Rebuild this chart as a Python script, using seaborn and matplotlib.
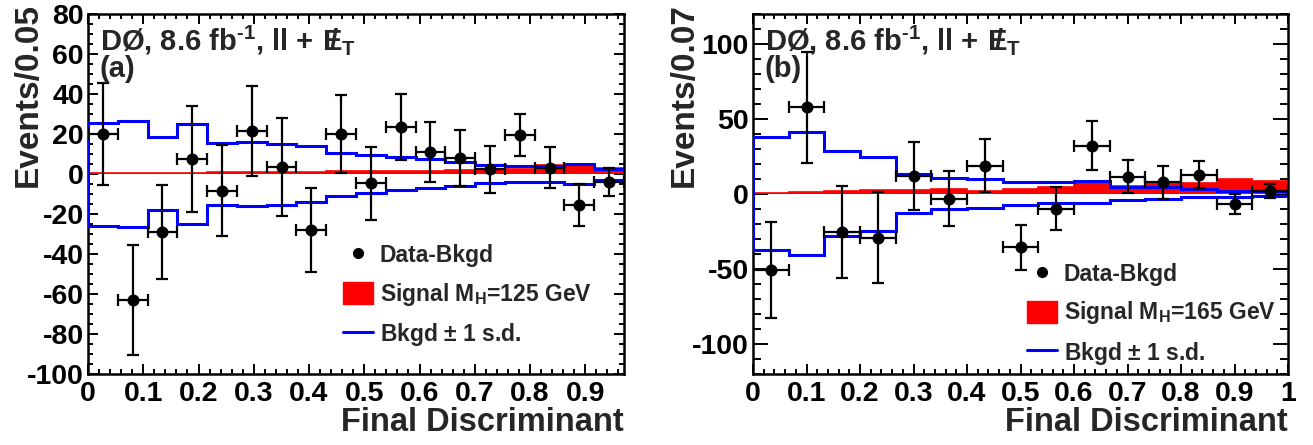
import numpy as np
import matplotlib
matplotlib.use("Agg")
import matplotlib.pyplot as plt
import seaborn as sns
from matplotlib.lines import Line2D
from matplotlib.patches import Patch
from matplotlib.ticker import MultipleLocator

# ---------------- data: panel (a) ----------------
a_xmax = 0.97
a_nbins = 18
a_data = [20.0, -63.0, -29.0, 7.5, -8.3, 21.5, 3.5, -27.8, 19.8, -4.7, 23.7, 11.2,
          7.8, 2.3, 19.5, 3.2, -15.5, -3.8]
a_err = [25.7, 27.5, 23.5, 26.3, 22.8, 22.5, 24.7, 21.0, 19.5, 18.2, 16.5, 15.0,
         14.0, 11.7, 10.7, 10.2, 10.5, 7.0]
a_sig = [0.3, 0.4, 0.5, 0.7, 0.8, 0.9, 1.0, 1.1, 1.3, 1.4, 1.5, 1.6, 1.8, 2.4,
         2.6, 4.3, 4.5, 2.8]
a_up = [25.7, 26.7, 18.3, 25.0, 15.7, 16.2, 15.0, 14.2, 10.7, 9.5, 8.7, 7.5,
        6.2, 4.7, 4.2, 4.2, 4.8, 2.3]
a_dn = [-25.8, -26.7, -18.0, -25.2, -15.7, -16.2, -15.3, -14.2, -10.8, -9.3,
        -8.0, -7.2, -5.8, -4.3, -3.8, -4.2, -5.0, -3.0]

# ---------------- data: panel (b) ----------------
b_xmax = 1.0
b_nbins = 15
b_data = [-50.5, 58.0, -25.3, -29.0, 12.3, -3.0, 18.9, -35.6, -9.8, 32.3, 11.4,
          7.8, 12.7, -6.8, 1.9]
b_err = [32.0, 37.0, 30.7, 30.5, 22.7, 18.5, 17.7, 15.0, 14.5, 16.5, 11.0, 11.0,
         9.0, 6.6, 4.8]
b_sig = [0.7, 1.2, 1.8, 2.5, 3.0, 3.5, 2.1, 3.4, 4.5, 7.4, 5.4, 7.4, 7.4, 10.2, 8.8]
b_up = [38.3, 41.2, 28.8, 25.0, 13.4, 10.7, 10.0, 7.8, 8.3, 8.9, 4.5, 4.5, 3.4,
        2.3, 1.9]
b_dn = [-37.4, -40.7, -28.3, -24.6, -12.5, -10.3, -9.5, -7.4, -6.3, -5.8, -3.9,
        -3.6, -2.1, -2.1, -1.0]

a_xticks = [0, 0.1, 0.2, 0.3, 0.4, 0.5, 0.6, 0.7, 0.8, 0.9]
a_xticklabels = ["0", "0.1", "0.2", "0.3", "0.4", "0.5", "0.6", "0.7", "0.8", "0.9"]
b_xticks = [0, 0.1, 0.2, 0.3, 0.4, 0.5, 0.6, 0.7, 0.8, 0.9, 1.0]
b_xticklabels = ["0", "0.1", "0.2", "0.3", "0.4", "0.5", "0.6", "0.7", "0.8", "0.9", "1"]

sns.set_theme(style="ticks")
plt.rcParams["font.family"] = ["Liberation Sans", "DejaVu Sans"]
plt.rcParams["font.weight"] = "bold"
plt.rcParams["axes.unicode_minus"] = False
plt.rcParams["mathtext.fontset"] = "custom"
plt.rcParams["mathtext.rm"] = "Liberation Sans:bold"
plt.rcParams["mathtext.bf"] = "Liberation Sans:bold"
plt.rcParams["mathtext.default"] = "regular"

fig = plt.figure(figsize=(13.13, 4.45), dpi=100)
W, H = 1313, 445
axA = fig.add_axes([88 / W, (445 - 374) / H, (624 - 88) / W, 360 / H])
axB = fig.add_axes([753 / W, (445 - 374) / H, (1288 - 753) / W, 360 / H])


def draw(ax, xmax, nbins, data, err, sig, up, dn, ylim, ymaj, ymin_, xticks,
         xticklabels, ylabel, ylabx, tag, mass, leg_anchor, ymajlen):
    edges = np.linspace(0, xmax, nbins + 1)
    centers = 0.5 * (edges[:-1] + edges[1:])
    hw = 0.5 * (edges[1] - edges[0])
    # signal (filled histogram)
    ax.stairs(sig, edges, fill=True, color="red", zorder=2)
    ax.stairs(sig, edges, color="red", linewidth=1.2, zorder=2)
    # background +/- 1 s.d.
    ax.stairs(up, edges, color="blue", linewidth=2.2, zorder=3)
    ax.stairs(dn, edges, color="blue", linewidth=2.2, zorder=3)
    # data
    ax.errorbar(centers, data, yerr=err, xerr=hw, fmt="none", ecolor="black",
                elinewidth=1.6, capsize=4.0, capthick=1.6, zorder=4)
    sns.scatterplot(x=centers, y=data, color="black", s=75, edgecolor="black",
                    linewidth=0, ax=ax, zorder=5)
    ax.set_xlim(0, xmax)
    ax.set_ylim(*ylim)
    ax.set_xticks(xticks)
    ax.set_xticklabels(xticklabels)
    ax.xaxis.set_minor_locator(MultipleLocator(0.02))
    ax.yaxis.set_major_locator(MultipleLocator(ymaj))
    ax.yaxis.set_minor_locator(MultipleLocator(ymin_))
    ax.tick_params(which="both", direction="in", top=True, right=True,
                   width=1.4, labelsize=20.5, colors="black")
    ax.tick_params(axis="x", which="major", length=7, pad=5)
    ax.tick_params(axis="x", which="minor", length=3.5)
    ax.tick_params(axis="y", which="major", length=ymajlen, pad=3)
    ax.tick_params(axis="y", which="minor", length=ymajlen / 2)
    for lab in ax.get_xticklabels() + ax.get_yticklabels():
        lab.set_fontweight("bold")
    for sp in ax.spines.values():
        sp.set_visible(True)
        sp.set_linewidth(1.8)
        sp.set_color("black")
    ax.set_xlabel("")
    ax.set_ylabel("")
    fig.text(ylabx / W, 1 - 3 / H, ylabel, rotation=90, ha="center", va="top",
             fontsize=24, fontweight="bold")
    x1 = ax.get_position().x1
    fig.text(x1, 7 / H, "Final Discriminant", ha="right", va="bottom",
             fontsize=23.5, fontweight="bold")
    ax.text(0.022, 0.975,
            r"DØ, 8.6 fb$^{\text{-1}}$, ll + $\;/\!\!\!E_{T}$",
            transform=ax.transAxes, ha="left", va="top", fontsize=21,
            fontweight="bold", zorder=6)
    ax.text(0.022, 0.885, tag, transform=ax.transAxes, ha="left", va="top",
            fontsize=21, fontweight="bold", zorder=6)
    handles = [
        Line2D([], [], marker="o", color="black", linestyle="none", markersize=7),
        Patch(facecolor="red", edgecolor="red"),
        Line2D([], [], color="blue", linewidth=2.2),
    ]
    labels = ["Data-Bkgd", "Signal M$_H$=%s GeV" % mass, "Bkgd $\\pm$ 1 s.d."]
    ax.legend(handles, labels, loc="upper left", bbox_to_anchor=leg_anchor,
              frameon=False, prop={"weight": "bold", "size": 16.5},
              handlelength=1.3, handleheight=1.1, handletextpad=0.3,
              labelspacing=0.58, borderpad=0, borderaxespad=0)


draw(axA, a_xmax, a_nbins, a_data, a_err, a_sig, a_up, a_dn, (-100, 80), 20, 5,
     a_xticks, a_xticklabels, "Events/0.05", 28, "(a)", "125",
     (0.476, 0.362), 7)
draw(axB, b_xmax, b_nbins, b_data, b_err, b_sig, b_up, b_dn, (-120, 120), 50, 10,
     b_xticks, b_xticklabels, "Events/0.07", 684, "(b)", "165",
     (0.512, 0.31), 11)

fig.savefig("out.png", dpi=100)
